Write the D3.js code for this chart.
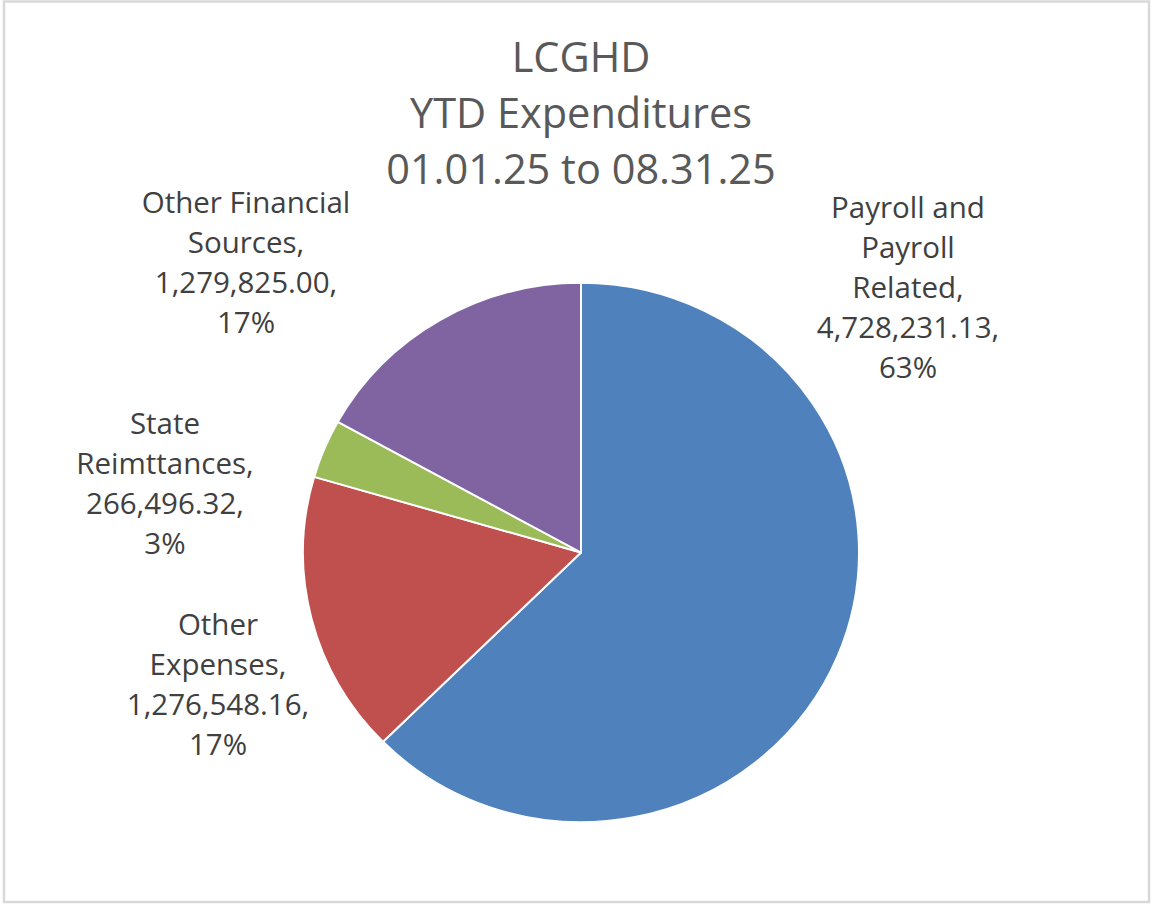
<!DOCTYPE html>
<html>
<head>
<meta charset="utf-8">
<script src="https://cdn.jsdelivr.net/npm/d3@7"></script>
<style>
  html, body { margin: 0; padding: 0; background: #ffffff; }
  svg { display: block; }
</style>
</head>
<body>
<svg id="chart" width="1154" height="904"></svg>
<script>
// ---- data ----
const titleLines = ["LCGHD", "YTD Expenditures", "01.01.25 to 08.31.25"];
const categories = ["Payroll and Payroll Related", "Other Expenses", "State Reimttances", "Other Financial Sources"];
const categoryLines = [["Payroll and", "Payroll", "Related,"], ["Other", "Expenses,"], ["State", "Reimttances,"], ["Other Financial", "Sources,"]];
const values = [4728231.13, 1276548.16, 266496.32, 1279825.00];
const percentLabels = ["63%", "17%", "3%", "17%"];
const colors = ["#4F81BD", "#C0504D", "#9BBB59", "#8064A2"];

// ---- layout ----
const W = 1154, H = 904;
const cx = 581, cy = 552.5, R = 278, yScale = 0.97;
const labelLayout = [
  { x: 908, y: 218 },
  { x: 218, y: 635 },
  { x: 165, y: 434 },
  { x: 246, y: 213 }
];
const lineH = 40;

const svg = d3.select("#chart");

svg.append("rect")
  .attr("x", 4).attr("y", 1.5)
  .attr("width", 1145).attr("height", 900.5)
  .attr("fill", "#ffffff")
  .attr("stroke", "#d9d9d9")
  .attr("stroke-width", 2.5);

// title
svg.append("text")
  .attr("text-anchor", "middle")
  .attr("font-family", "'Open Sans', sans-serif")
  .attr("font-size", 41.5)
  .attr("fill", "#595959")
  .selectAll("tspan")
  .data(titleLines)
  .join("tspan")
  .attr("x", cx)
  .attr("y", (d, i) => 72 + i * 56)
  .text(d => d);

// pie
const data = categories.map((c, i) => ({ category: c, value: values[i], i }));
const pie = d3.pie().value(d => d.value).sort(null);
const arc = d3.arc().innerRadius(0).outerRadius(R);
const arcs = pie(data);

const g = svg.append("g")
  .attr("transform", `translate(${cx},${cy}) scale(1,${yScale})`);

g.selectAll("path")
  .data(arcs)
  .join("path")
  .attr("d", arc)
  .attr("fill", d => colors[d.data.i])
  .attr("stroke", "#ffffff")
  .attr("stroke-width", 2)
  .attr("stroke-linejoin", "round");

// labels
const fmt = d3.format(",.2f");
const labels = svg.append("g")
  .attr("font-family", "'Open Sans', sans-serif")
  .attr("font-size", 29.5)
  .attr("fill", "#404040")
  .attr("text-anchor", "middle");

arcs.forEach((a, k) => {
  const i = a.data.i;
  const lines = categoryLines[i].concat([fmt(values[i]) + ",", percentLabels[i]]);
  const pos = labelLayout[i];
  labels.append("text")
    .selectAll("tspan")
    .data(lines)
    .join("tspan")
    .attr("x", pos.x)
    .attr("y", (d, j) => pos.y + j * lineH)
    .text(d => d);
});
</script>
</body>
</html>
